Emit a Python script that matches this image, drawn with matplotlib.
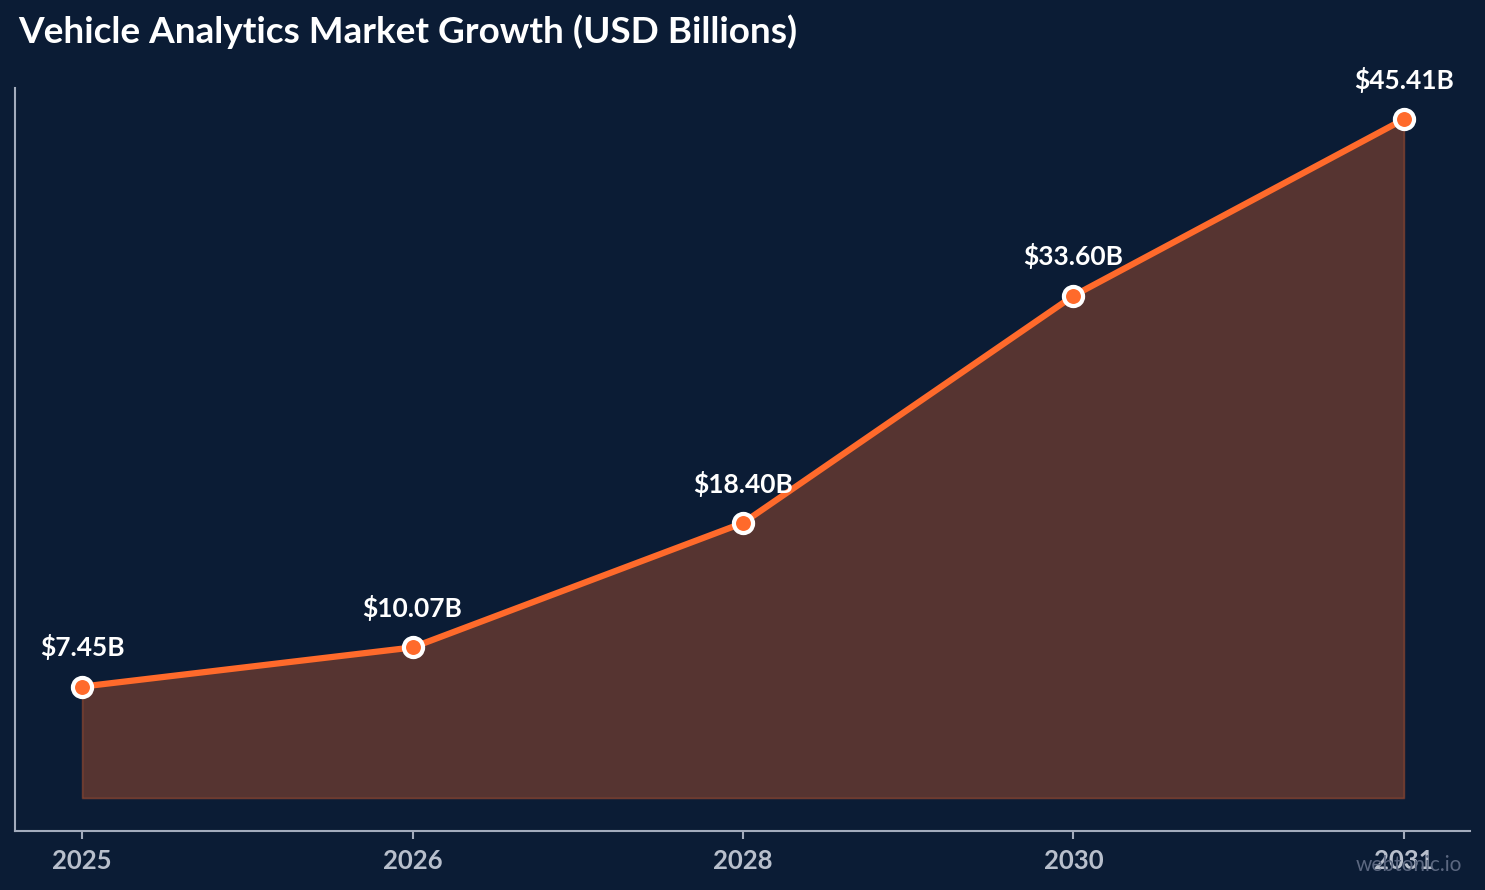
import matplotlib.pyplot as plt

years = ["2025", "2026", "2028", "2030", "2031"]
market_size = [7.45, 10.07, 18.40, 33.60, 45.41]

BG = "#0b1c35"
ORANGE = "#ff6a2b"
AXIS = "#a3acbd"

plt.rcParams["font.family"] = ["Lato", "DejaVu Sans"]

fig = plt.figure(figsize=(14.85, 8.9), dpi=100, facecolor=BG)
ax = fig.add_axes([15 / 1485, 1 - 831 / 890, 1455 / 1485, 743 / 890])
ax.set_facecolor(BG)

x = list(range(len(years)))
ax.fill_between(x, 0, market_size, facecolor=ORANGE, alpha=0.31,
                edgecolor=ORANGE, linewidth=1.2)
ax.plot(x, market_size, color=ORANGE, linewidth=4.5, zorder=3,
        solid_capstyle="round")
ax.scatter(x, market_size, s=190, color=ORANGE, edgecolor="white",
           linewidth=3, zorder=4)

for xi, v in zip(x, market_size):
    ax.annotate(f"${v:.2f}B", (xi, v), xytext=(0, 19), textcoords="offset points",
                ha="center", va="bottom", color="white", fontsize=19,
                fontweight="bold")

ax.set_xlim(-0.203, 4.2)
ax.set_ylim(-2.21, 47.5)
ax.set_xticks(x)
ax.set_xticklabels(years)
ax.set_yticks([])
for side in ["top", "right"]:
    ax.spines[side].set_visible(False)
for side in ["left", "bottom"]:
    ax.spines[side].set_color(AXIS)
    ax.spines[side].set_linewidth(1.5)
ax.tick_params(axis="x", colors=AXIS, length=6, width=1.5, pad=7,
               labelsize=18.5, labelcolor="#b8bfcc")
for lbl in ax.get_xticklabels():
    lbl.set_fontweight("bold")

fig.text(18 / 1485, 1 - 32 / 890, "Vehicle Analytics Market Growth (USD Billions)",
         color="white", fontsize=26.6, fontweight="bold", va="center", ha="left")
fig.text(1462 / 1485, 1 - 865 / 890, "webtonic.io", color="#5b6780",
         fontsize=15, ha="right", va="center")

fig.savefig("out.png", dpi=100, facecolor=BG)
